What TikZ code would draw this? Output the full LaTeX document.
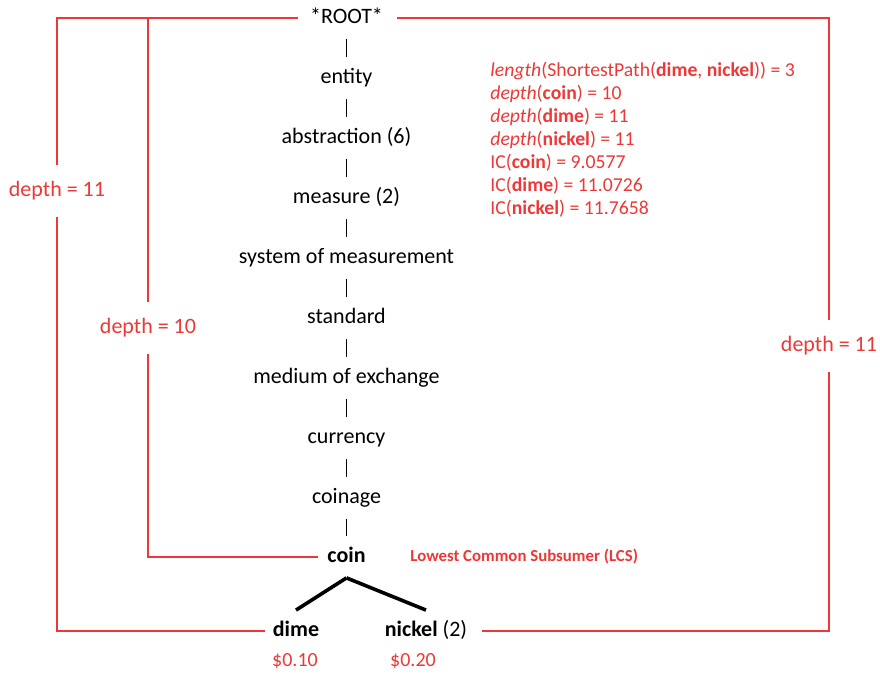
\documentclass[tikz,border=0pt]{standalone}
\usepackage{fontspec}
\setmainfont{Carlito}
\definecolor{lcsred}{RGB}{236,56,56}

\begin{document}
\begin{tikzpicture}[x = 0.5pt, y = -0.5pt,
  term/.style = {font=\fontsize{11}{13}\selectfont, text height=8pt, text depth=2.5pt, inner xsep=1pt, inner ysep=5pt},
  rednote/.style = {text=lcsred, inner sep=0pt},
  depthlabel/.style = {text=lcsred, font=\fontsize{11}{13}\selectfont, fill=white, inner xsep=2pt, inner ysep=8.5pt},
  bar/.style = {line width=0.8pt},
  branch/.style = {line width=1.8pt},
  depthline/.style = {draw=lcsred, line width=0.75pt},]

\useasboundingbox (0,0) rectangle (880,674);

\node[term] (root) at (346.5,18) {*ROOT*};
\node[term] (entity) at (346.5,78) {entity};
\node[term] (abstraction) at (346.5,138) {abstraction (6)};
\node[term] (measure) at (346.5,198) {measure (2)};
\node[term] (system) at (346.5,258) {system of measurement};
\node[term] (standard) at (346.5,318) {standard};
\node[term] (medium) at (346.5,378) {medium of exchange};
\node[term] (currency) at (346.5,438) {currency};
\node[term] (coinage) at (346.5,498) {coinage};
\node[term] (coin) at (346.5,557) {\textbf{coin}};
\node[term] (dime) at (296,631) {\textbf{dime}};
\node[term] (nickel) at (426,631) {\textbf{nickel} (2)};

\node[rednote, font=\fontsize{10}{12}\selectfont] (dimeprice) at (295,661) {\$0.10};
\node[rednote, font=\fontsize{10}{12}\selectfont] (nickelprice) at (413,661) {\$0.20};
\node[rednote, font=\bfseries\fontsize{8.4}{10}\selectfont, anchor=west] (lcs) at (410,557) {Lowest Common Subsumer (LCS)};
\node[rednote, font=\fontsize{9.85}{11.5}\selectfont, align=left, anchor=north west] (stats) at (490,62)
  {\textit{length}(ShortestPath(\textbf{dime}, \textbf{nickel})) = 3\\
   \textit{depth}(\textbf{coin}) = 10\\
   \textit{depth}(\textbf{dime}) = 11\\
   \textit{depth}(\textbf{nickel}) = 11\\
   IC(\textbf{coin}) = 9.0577\\
   IC(\textbf{dime}) = 11.0726\\
   IC(\textbf{nickel}) = 11.7658};

\draw[bar] (root) -- (entity);
\draw[bar] (entity) -- (abstraction);
\draw[bar] (abstraction) -- (measure);
\draw[bar] (measure) -- (system);
\draw[bar] (system) -- (standard);
\draw[bar] (standard) -- (medium);
\draw[bar] (medium) -- (currency);
\draw[bar] (currency) -- (coinage);
\draw[bar] (coinage) -- (coin);
\draw[branch] (coin.south) -- (dime.north);
\draw[branch] (coin.south) -- (nickel.north);

% depth paths
\coordinate (outerL) at (57,18);
\coordinate (innerL) at (148,18);
\coordinate (outerR) at (829,18);
\draw[depthline, shorten <=5pt] (root.west) -| (outerL |- dime.west) -- ([xshift=-3pt]dime.west);
\draw[depthline] (innerL) |- ([xshift=-3.5pt]coin.west);
\draw[depthline, shorten <=6pt] (root.east) -| (outerR |- nickel.east) -- ([xshift=6pt]nickel.east);

\node[depthlabel] (depthdime) at (57,191) {depth = 11};
\node[depthlabel] (depthcoin) at (148,328) {depth = 10};
\node[depthlabel] (depthnickel) at (829,346) {depth = 11};

\end{tikzpicture}
\end{document}
